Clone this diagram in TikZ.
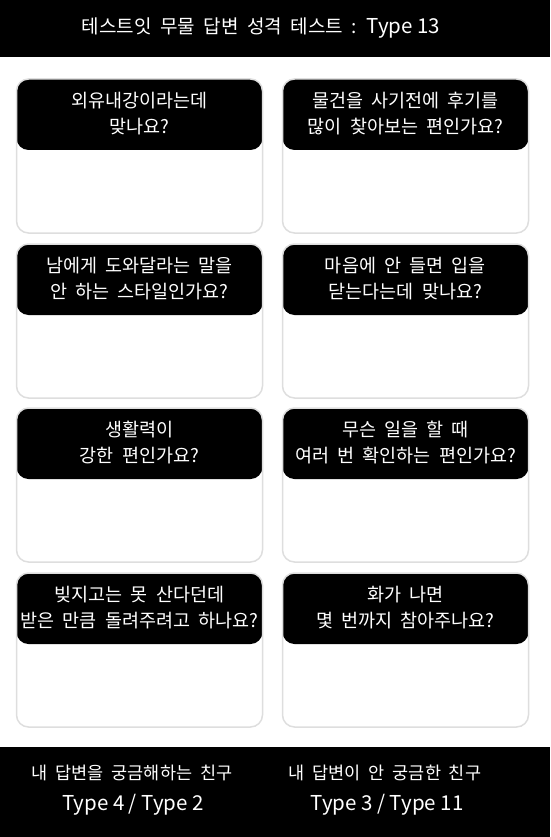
\documentclass[tikz,border=0pt]{standalone}
\usepackage{fontspec}
\setmainfont{Noto Sans CJK KR}[WordSpace=2]
\newfontfamily\latinfont{Noto Sans CJK KR}
\usetikzlibrary{positioning}

% Latin words are set a little larger than the Hangul
\newcommand\typetxt[1]{{\latinfont\fontsize{20.5}{24}\selectfont #1}}

\tikzset{
  card/.style={draw=black!13, line width=1.5pt, fill=white, rounded corners=12pt,
    minimum width=246pt, minimum height=154pt, inner sep=0pt,
    path picture={\fill[black] (path picture bounding box.north west)
      rectangle ([yshift=-71pt]path picture bounding box.north east);}},
  qtext/.style={text=white, align=center, inner sep=0pt,
    font=\fontsize{18.5}{26}\selectfont},
  bartext/.style={text=white, align=center, inner sep=0pt,
    font=\fontsize{17.5}{22}\selectfont}
}

\begin{document}
\begin{tikzpicture}[x=1pt, y=-1pt]
  \useasboundingbox (0,0) rectangle (550,837);

  % Top and bottom bars
  \fill[black] (0,0) rectangle (550,57);
  \fill[black] (0,747) rectangle (550,837);
  \node[text=white, inner sep=0pt, font=\fontsize{19}{22}\selectfont] (title) at (261,28) {테스트잇 무물 답변 성격 테스트 : \typetxt{Type 13}};

  % Question cards
  \node[card] (c1) at (139.5,156) {};
  \node[card] (c2) at (405.5,156) {};
  \node[card] (c3) at (139.5,321) {};
  \node[card] (c4) at (405.5,321) {};
  \node[card] (c5) at (139.5,485) {};
  \node[card] (c6) at (405.5,485) {};
  \node[card] (c7) at (139.5,650) {};
  \node[card] (c8) at (405.5,650) {};

  % Questions in the card heads
  \node[qtext] (q1) at ([yshift=-35.5pt]c1.north) {외유내강이라는데\\맞나요?};
  \node[qtext] (q2) at ([yshift=-35.5pt]c2.north) {물건을 사기전에 후기를\\많이 찾아보는 편인가요?};
  \node[qtext] (q3) at ([yshift=-35.5pt]c3.north) {남에게 도와달라는 말을\\안 하는 스타일인가요?};
  \node[qtext] (q4) at ([yshift=-35.5pt]c4.north) {마음에 안 들면 입을\\닫는다는데 맞나요?};
  \node[qtext] (q5) at ([yshift=-35.5pt]c5.north) {생활력이\\강한 편인가요?};
  \node[qtext] (q6) at ([yshift=-35.5pt]c6.north) {무슨 일을 할 때\\여러 번 확인하는 편인가요?};
  \node[qtext] (q7) at ([yshift=-35.5pt]c7.north) {빚지고는 못 산다던데\\받은 만큼 돌려주려고 하나요?};
  \node[qtext] (q8) at ([yshift=-35.5pt]c8.north) {화가 나면\\몇 번까지 참아주나요?};

  % Friends in the bottom bar
  \node[bartext] (friendA) at (132,773) {내 답변을 궁금해하는 친구};
  \node[bartext] (typeA) at (133,805) {\typetxt{Type 4 / Type 2}};
  \node[bartext] (friendB) at (385,773) {내 답변이 안 궁금한 친구};
  \node[bartext] (typeB) at (387,805) {\typetxt{Type 3 / Type 11}};
\end{tikzpicture}
\end{document}
